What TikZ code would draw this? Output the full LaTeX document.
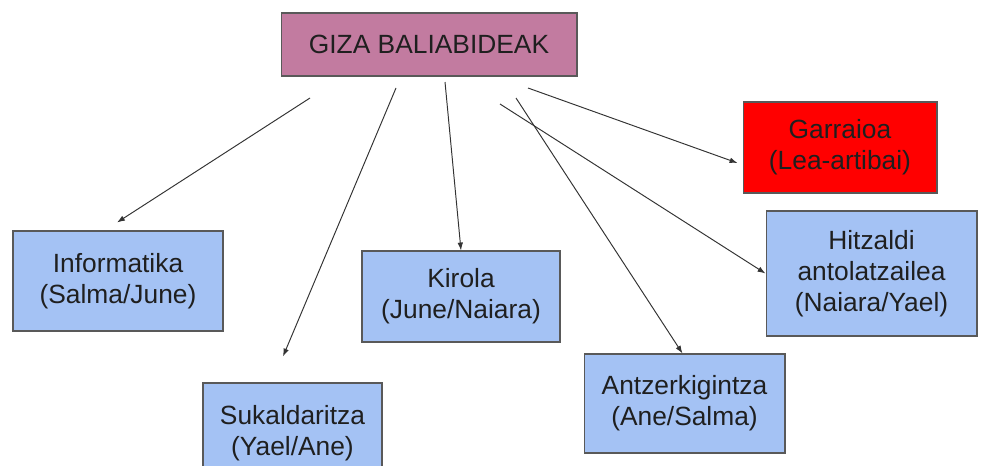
\documentclass[tikz,border=0pt]{standalone}
\usepackage{fontspec}
\setmainfont{Liberation Sans}
\usetikzlibrary{positioning, arrows.meta}
\definecolor{giza}{RGB}{194,123,160}
\definecolor{urdina}{RGB}{164,194,244}
\definecolor{gorria}{RGB}{255,0,0}
\definecolor{ertza}{RGB}{89,89,89}

\tikzset{
    box/.style={draw=ertza, line width=0.6pt, align=center, text=black!88,
        font=\fontsize{15}{17.6}\selectfont, inner sep=2pt},
    arr/.style={-{Latex[length=4.5pt,width=3.2pt]}, line width=0.55pt, draw=black!80}
}

\begin{document}
\begin{tikzpicture}[x=0.02cm, y=-0.02cm]
        \useasboundingbox (0,0) rectangle (983,466);
        \clip (0,0) rectangle (983,466);

        % Goiko kutxa
        \node[box, fill=giza, minimum width=5.92cm, minimum height=1.26cm] (giza) at (429,44.5) {GIZA BALIABIDEAK};

        % Taldeak
        \node[box, fill=urdina, minimum width=4.2cm, minimum height=2cm] (info) at (118,281) {Informatika\\(Salma/June)};
        \node[box, fill=urdina, minimum width=3.58cm, minimum height=2cm] (suka) at (292.5,433) {Sukaldaritza\\(Yael/Ane)};
        \node[box, fill=urdina, minimum width=3.96cm, minimum height=1.82cm] (kirola) at (461,296.5) {Kirola\\(June/Naiara)};
        \node[box, fill=urdina, minimum width=4.02cm, minimum height=1.98cm] (antz) at (684.5,403.5) {Antzerkigintza\\(Ane/Salma)};
        \node[box, fill=gorria, minimum width=3.88cm, minimum height=1.82cm] (garr) at (840,147.5) {Garraioa\\(Lea-artibai)};
        \node[box, fill=urdina, minimum width=4.22cm, minimum height=2.5cm] (hitz) at (871.5,273.5) {Hitzaldi\\antolatzailea\\(Naiara/Yael)};

        % Geziak
        \coordinate (s1) at (310,98);
        \coordinate (s2) at (396,88);
        \coordinate (s3) at (445,82);
        \coordinate (s4) at (516,98);
        \coordinate (s5) at (500,104);
        \coordinate (s6) at (528,88);

        \draw[arr] (s1) -- ([shift={(-1,-8)}]info.north);
        \draw[arr] (s2) -- ([shift={(-9.5,-26)}]suka.north);
        \draw[arr] (s3) -- (kirola.north);
        \draw[arr] (s4) -- ([shift={(-2,0)}]antz.north);
        \draw[arr] (s5) -- (hitz.west);
        \draw[arr] (s6) -- ([shift={(-5,15.5)}]garr.west);
    \end{tikzpicture}
\end{document}
